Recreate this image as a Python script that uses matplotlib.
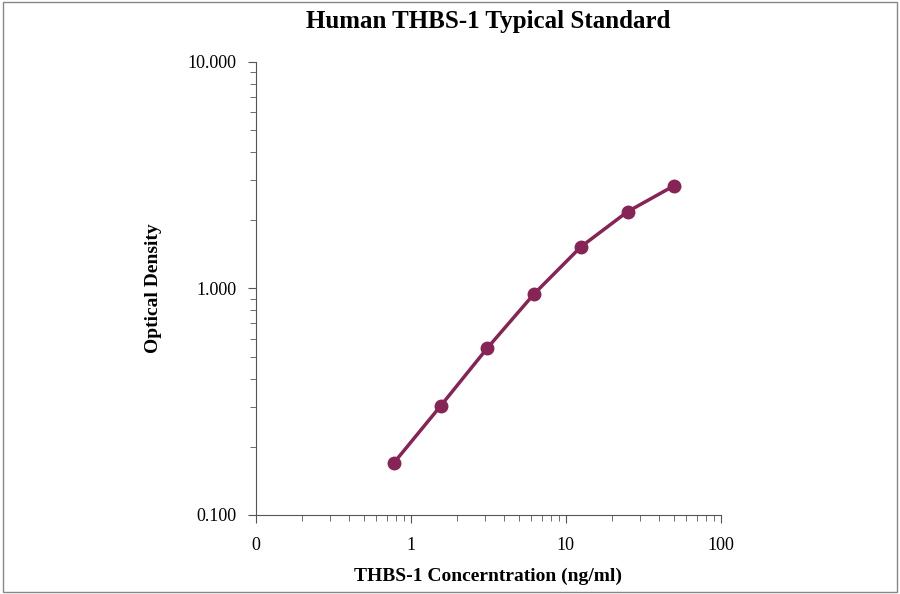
import matplotlib
matplotlib.use("Agg")
import matplotlib.pyplot as plt
from matplotlib.patches import Rectangle

# standard curve values
conc = [0.78, 1.56, 3.125, 6.25, 12.5, 25, 50]
od = [0.170, 0.303, 0.546, 0.946, 1.525, 2.18, 2.84]

x_ticks = [0.1, 1, 10, 100]
x_labels = ["0", "1", "10", "100"]
y_ticks = [0.1, 1, 10]
y_labels = ["0.100", "1.000", "10.000"]

plt.rcParams['font.family'] = ['Liberation Serif', 'DejaVu Serif']

fig = plt.figure(figsize=(9, 5.94), dpi=100)
ax = fig.add_axes([0.284, 0.133, 0.517, 0.763])
color = "#862456"
ax.plot(conc, od, color=color, lw=2.5, marker="o", ms=9,
        markerfacecolor=color, markeredgecolor=color)
ax.set_xscale("log")
ax.set_yscale("log")
ax.set_xlim(0.1, 100)
ax.set_ylim(0.1, 10)
ax.set_xticks(x_ticks)
ax.set_xticklabels(x_labels)
ax.set_yticks(y_ticks)
ax.set_yticklabels(y_labels)
ax.spines["top"].set_visible(False)
ax.spines["right"].set_visible(False)
for s in ("left", "bottom"):
    ax.spines[s].set_color("#555555")
ax.tick_params(which="both", direction="out", colors="#555555", labelcolor="black", labelsize=13)
ax.tick_params(which="major", length=6)
ax.tick_params(which="minor", length=4)
ax.tick_params(axis="x", pad=10)
ax.tick_params(axis="y", pad=8)

ax.set_title("Human THBS-1 Typical Standard", fontsize=18, fontweight="bold", pad=24)
ax.set_xlabel("THBS-1 Concerntration (ng/ml)", fontsize=14, fontweight="bold", labelpad=10)
ax.set_ylabel("Optical Density", fontsize=14, fontweight="bold", labelpad=18)

fig.patches.append(Rectangle((0.003, 0.003), 0.994, 0.994, transform=fig.transFigure,
                             fill=False, edgecolor="#888888", lw=1))
fig.savefig("out.png", dpi=100)
